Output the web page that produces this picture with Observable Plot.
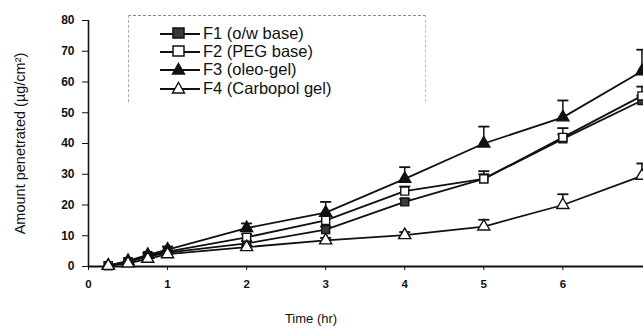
<!DOCTYPE html>
<html><head><meta charset="utf-8">
<script src="https://cdn.jsdelivr.net/npm/d3@7"></script>
<script src="https://cdn.jsdelivr.net/npm/@observablehq/plot@0.6"></script>
<style>
body{margin:0;background:#fff;font-family:"Liberation Sans",Arial,sans-serif}
#wrap{position:relative;width:643px;height:332px;overflow:hidden}
#legend{position:absolute;left:128px;top:15px;width:296px;height:86px;border-top:1px dashed #888;border-left:1px dashed #aaa;border-right:1px dashed #bbb;background:transparent}
.row{position:absolute;left:30px;height:18px;display:flex;align-items:center;font-size:16.5px;color:#111;white-space:nowrap}
.row svg{margin-right:2px}
</style>
</head><body>
<div id="wrap"><div id="chart"></div><div id="legend"></div></div>
<script>
const time = [0.25, 0.5, 0.75, 1, 2, 3, 4, 5, 6, 7];
const seriesNames = ["F1 (o/w base)", "F2 (PEG base)", "F3 (oleo-gel)", "F4 (Carbopol gel)"];
const f1 = [0.3, 1.5, 3.2, 4.5, 7.5, 12, 21, 28.5, 41.5, 54];
const f2 = [0.3, 1.6, 3.5, 4.8, 9.5, 15, 24.5, 28.5, 42, 55.5];
const f3 = [0.3, 1.8, 3.8, 5.5, 12.5, 17.5, 28.5, 40, 48.5, 63.5];
const f4 = [0.2, 1.0, 2.5, 4.0, 6.3, 8.5, 10.2, 13, 20, 29.5];
const e1 = [0, 0, 0, 0, 0.8, 1.0, 1.0, 1.5, 1.5, 1.5];
const e2 = [0, 0, 0, 0, 1.0, 1.5, 1.5, 2.5, 3.0, 3.0];
const e3 = [0, 0, 0.5, 1.0, 1.5, 3.5, 3.8, 5.5, 5.5, 7.0];
const e4 = [0, 0, 0, 0, 0.5, 0.8, 1.0, 2.2, 3.5, 4.0];
const yTicks = [0, 10, 20, 30, 40, 50, 60, 70, 80];
const xTicks = [0, 1, 2, 3, 4, 5, 6];

const vals = [f1, f2, f3, f4], errs = [e1, e2, e3, e4];
const data = [];
seriesNames.forEach((s, i) => time.forEach((t, j) => data.push({s, i, t, v: vals[i][j], e: errs[i][j]})));
const errData = data.filter(d => d.e > 0);
const symbols = ["square", "square", "triangle", "triangle"];
const fills = ["#3a3a3a", "#fff", "#111", "#fff"];

const chart = Plot.plot({
  width: 643, height: 332,
  marginLeft: 88, marginRight: 0, marginTop: 20, marginBottom: 66,
  style: {fontFamily: "Liberation Sans, Arial, sans-serif", background: "#fff", color: "#111"},
  x: {domain: [0, 7.02]},
  y: {domain: [0, 80]},
  marks: [
    Plot.axisY(yTicks, {tickSize: 6, tickPadding: 8, fontSize: 12, fontWeight: "bold", label: "Amount penetrated (µg/cm²)", labelAnchor: "center", labelOffset: 74, labelArrow: "none"}),
    Plot.axisX(xTicks, {tickSize: 4, tickPadding: 9, fontSize: 11.5, fontWeight: "bold", label: "Time (hr)", labelAnchor: "center", labelOffset: 56, labelArrow: "none"}),
    Plot.ruleX([0], {stroke: "#111", strokeWidth: 1.6}),
    Plot.ruleY([0], {stroke: "#111", strokeWidth: 1.8}),
    Plot.ruleX(errData, {x: "t", y1: "v", y2: d => d.v + d.e, stroke: "#111", strokeWidth: 1.5}),
    Plot.link(errData, {x1: d => d.t - 0.07, x2: d => d.t + 0.07, y1: d => d.v + d.e, y2: d => d.v + d.e, stroke: "#111", strokeWidth: 1.8}),
    Plot.line(data, {x: "t", y: "v", z: "s", stroke: "#111", strokeWidth: 1.8}),
    ...[0, 1, 2, 3].map(k => Plot.dot(data.filter(d => d.i === k), {x: "t", y: "v", symbol: () => symbols[k], r: 4.5, fill: fills[k], stroke: "#111", strokeWidth: 1.4}))
  ]
});
document.getElementById("chart").appendChild(chart);
chart.querySelectorAll('[aria-label="y-axis label"] text').forEach(t => { t.style.fontSize = "14.5px"; t.style.fontWeight = "normal"; });
chart.querySelectorAll('[aria-label="x-axis label"] text').forEach(t => {
  t.style.fontSize = "13px"; t.style.fontWeight = "normal";
  t.setAttribute("transform", "translate(-55,0) " + (t.getAttribute("transform") || ""));
});

const legend = document.getElementById("legend");
const tops = [8, 26, 44, 63];
seriesNames.forEach((s, k) => {
  const row = document.createElement("div");
  row.className = "row";
  row.style.top = tops[k] + "px";
  const sym = k < 2
    ? `<rect x="14" y="3" width="11" height="10" fill="${fills[k]}" stroke="#111" stroke-width="1.5"/>`
    : `<polygon points="19.5,2.5 25.5,13 13.5,13" fill="${fills[k]}" stroke="#111" stroke-width="1.4"/>`;
  row.innerHTML = `<svg width="42" height="17"><line x1="1" x2="41" y1="9" y2="9" stroke="#111" stroke-width="1.8"/>${sym}</svg><span>${s}</span>`;
  legend.appendChild(row);
});
</script>
</body></html>
